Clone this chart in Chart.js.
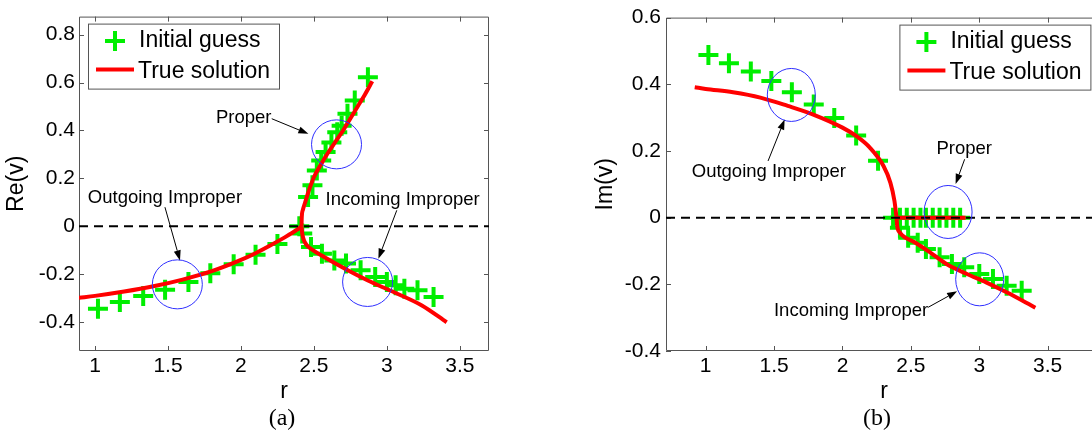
<!DOCTYPE html>
<html>
<head>
<meta charset="utf-8">
<script src="https://cdn.jsdelivr.net/npm/chart.js@4.4.0/dist/chart.umd.min.js"></script>
<style>
  html, body { margin: 0; padding: 0; background: #fff; overflow: hidden; }
  body { width: 1092px; height: 436px; position: relative; }
  .panel { position: absolute; top: 0; height: 436px; }
  #wrapA { left: 0; width: 546px; }
  #wrapB { left: 546px; width: 620px; }
  .cap { position: absolute; top: 405px; line-height: 24px; font-family: "Liberation Serif", "Times New Roman", serif; font-size: 24px; transform: translateX(-50%); }
</style>
</head>
<body>
<div class="panel" id="wrapA"><canvas id="chartA"></canvas></div>
<div class="panel" id="wrapB"><canvas id="chartB"></canvas></div>
<div class="cap" style="left:282px">(a)</div>
<div class="cap" style="left:877px">(b)</div>
<script>
// tick values
const xTicks = [1, 1.5, 2, 2.5, 3, 3.5];
const reTicks = [-0.4, -0.2, 0, 0.2, 0.4, 0.6, 0.8];
const imTicks = [-0.4, -0.2, 0, 0.2, 0.4, 0.6];

// (a) Re(v) -- initial guess, three branches
const aOutR = [1.02, 1.17, 1.33, 1.48, 1.64, 1.79, 1.95, 2.10, 2.25, 2.40];
const aOutGuess = [-0.344, -0.316, -0.291, -0.264, -0.232, -0.196, -0.158, -0.118, -0.074, 0.0];
const aPropR = [2.46, 2.49, 2.52, 2.55, 2.58, 2.62, 2.66, 2.69, 2.73, 2.78, 2.87];
const aPropGuess = [0.122, 0.171, 0.233, 0.275, 0.31, 0.35, 0.393, 0.42, 0.47, 0.525, 0.622];
const aIncR = [2.42, 2.48, 2.555, 2.64, 2.72, 2.82, 2.92, 3.0, 3.06, 3.12, 3.21, 3.32];
const aIncGuess = [-0.03, -0.086, -0.114, -0.142, -0.155, -0.183, -0.211, -0.232, -0.246, -0.26, -0.267, -0.295];

// (a) Re(v) -- true solution
const aOutCurveR = [0.89, 1.0, 1.2, 1.4, 1.6, 1.8, 2.0, 2.1, 2.2, 2.3, 2.35, 2.39, 2.415];
const aOutCurve = [-0.298, -0.290, -0.272, -0.250, -0.222, -0.187, -0.140, -0.112, -0.080, -0.046, -0.028, -0.012, 0];
const aPropCurveR = [2.415, 2.417, 2.425, 2.44, 2.46, 2.50, 2.55, 2.60, 2.65, 2.70, 2.75, 2.80, 2.85, 2.90];
const aPropCurve = [0, 0.04, 0.07, 0.10, 0.14, 0.205, 0.26, 0.31, 0.355, 0.40, 0.45, 0.50, 0.55, 0.605];
const aIncCurveR = [2.415, 2.42, 2.43, 2.45, 2.49, 2.57, 2.71, 2.87, 3.05, 3.24, 3.41];
const aIncCurve = [0, -0.03, -0.055, -0.078, -0.098, -0.128, -0.176, -0.226, -0.275, -0.33, -0.40];

// (b) Im(v) -- initial guess
const bOutR = [1.02, 1.17, 1.33, 1.48, 1.63, 1.79, 1.94, 2.10, 2.26];
const bOutGuess = [0.488, 0.463, 0.438, 0.41, 0.376, 0.339, 0.299, 0.246, 0.171];
const bPropR = [2.37, 2.42, 2.47, 2.52, 2.57, 2.61, 2.66, 2.71, 2.76, 2.81, 2.86];
const bPropGuess = [0, 0, 0, 0, 0, 0, 0, 0, 0, 0, 0];
const bIncR = [2.42, 2.48, 2.55, 2.61, 2.71, 2.80, 2.89, 3.0, 3.10, 3.20, 3.31];
const bIncGuess = [-0.03, -0.06, -0.075, -0.094, -0.119, -0.139, -0.149, -0.169, -0.184, -0.204, -0.219];

// (b) Im(v) -- true solution
const bOutCurveR = [0.92, 1.0, 1.2, 1.4, 1.6, 1.8, 2.0, 2.1, 2.2, 2.3, 2.35, 2.38, 2.395];
const bOutCurve = [0.391, 0.386, 0.376, 0.360, 0.335, 0.307, 0.27, 0.245, 0.21, 0.155, 0.105, 0.05, 0];
const bPropCurveR = [2.395, 2.90];
const bPropCurve = [0, 0];
const bIncCurveR = [2.395, 2.40, 2.42, 2.46, 2.52, 2.64, 2.76, 2.91, 3.05, 3.20, 3.41];
const bIncCurve = [0, -0.025, -0.045, -0.06, -0.072, -0.104, -0.139, -0.169, -0.194, -0.224, -0.27];

// labelled rings: ring centre, arrow tail/head and text centre in data units
const notesA = [
  { text: 'Outgoing Improper', at: [1.479, 0.118], from: [1.479, 0.080], to: [1.582, -0.142], ring: [1.564, -0.242] },
  { text: 'Proper', at: [2.019, 0.453], from: [2.211, 0.449], to: [2.462, 0.386], ring: [2.655, 0.342] },
  { text: 'Incoming Improper', at: [3.108, 0.111], from: [3.068, 0.067], to: [2.942, -0.135], ring: [2.868, -0.232] }
];
const notesB = [
  { text: 'Outgoing Improper', at: [1.462, 0.137], from: [1.456, 0.17], to: [1.577, 0.294], ring: [1.626, 0.368] },
  { text: 'Proper', at: [2.89, 0.207], from: [2.893, 0.175], to: [2.827, 0.101], ring: [2.772, 0.017] },
  { text: 'Incoming Improper', at: [2.063, -0.279], from: [2.626, -0.269], to: [2.838, -0.221], ring: [3.003, -0.185] }
];

const GREEN = '#00ee00';
const RED = '#ff0000';
const FRAME = '#555555';
const SANS = '"Liberation Sans", Arial, sans-serif';

Chart.defaults.font.family = SANS;
Chart.defaults.color = '#000';

function pts(rs, vs) {
  return rs.map((r, i) => ({ x: r, y: vs[i] }));
}

function guessSet(rs, vs) {
  return {
    label: 'Initial guess', data: pts(rs, vs), showLine: false, order: 1,
    pointStyle: 'cross', pointRadius: 10, pointBorderWidth: 4,
    pointBorderColor: GREEN, pointBackgroundColor: GREEN
  };
}

function curveSet(rs, vs) {
  return {
    label: 'True solution', data: pts(rs, vs), showLine: true, order: 0,
    borderColor: RED, borderWidth: 4, pointRadius: 0,
    cubicInterpolationMode: 'monotone',
    borderJoinStyle: 'round', borderCapStyle: 'butt'
  };
}

function arrow(ctx, x0, y0, x1, y1) {
  const ang = Math.atan2(y1 - y0, x1 - x0);
  const len = 10, half = 3.5;
  const bx = x1 - len * Math.cos(ang), by = y1 - len * Math.sin(ang);
  ctx.beginPath();
  ctx.moveTo(x0, y0);
  ctx.lineTo(bx, by);
  ctx.stroke();
  ctx.beginPath();
  ctx.moveTo(x1, y1);
  ctx.lineTo(bx - half * Math.sin(ang), by + half * Math.cos(ang));
  ctx.lineTo(bx + half * Math.sin(ang), by - half * Math.cos(ang));
  ctx.closePath();
  ctx.fill();
}

function drawKey(chart, key) {
  const { ctx, chartArea: a } = chart;
  const w = 191, h = 65;
  const left = key.side === 'left' ? a.left + 9 : a.right - key.inset - w;
  const top = a.top + 7;
  const guess = chart.data.datasets.find(d => !d.showLine);
  const curve = chart.data.datasets.find(d => d.showLine);

  ctx.fillStyle = '#fff';
  ctx.fillRect(left, top, w, h);
  ctx.strokeStyle = FRAME;
  ctx.lineWidth = 1;
  ctx.strokeRect(left + 0.5, top + 0.5, w, h);

  // marker entry
  const cx = left + 27, cy = top + 17.5;
  ctx.strokeStyle = guess.pointBorderColor;
  ctx.lineWidth = guess.pointBorderWidth;
  ctx.beginPath();
  ctx.moveTo(cx - 10, cy); ctx.lineTo(cx + 10, cy);
  ctx.moveTo(cx, cy - 10); ctx.lineTo(cx, cy + 10);
  ctx.stroke();

  // line entry
  ctx.strokeStyle = curve.borderColor;
  ctx.lineWidth = curve.borderWidth;
  ctx.beginPath();
  ctx.moveTo(left + 8, top + 46);
  ctx.lineTo(left + 46, top + 46);
  ctx.stroke();

  ctx.fillStyle = '#000';
  ctx.font = '23px ' + SANS;
  ctx.textAlign = 'left';
  ctx.textBaseline = 'middle';
  ctx.fillText(guess.label, left + 51, top + 17);
  ctx.fillText(curve.label, left + 50, top + 48.5);
}

const matlabBox = {
  id: 'matlabBox',
  beforeDatasetsDraw(chart) {
    const { ctx, chartArea: a, scales: { x, y } } = chart;
    ctx.save();
    ctx.strokeStyle = FRAME;
    ctx.lineWidth = 1;
    ctx.beginPath();
    ctx.rect(a.left + 0.5, a.top + 0.5, a.right - a.left - 1, a.bottom - a.top - 1);
    for (const t of x.ticks) {
      const px = Math.round(x.getPixelForValue(t.value)) + 0.5;
      ctx.moveTo(px, a.bottom); ctx.lineTo(px, a.bottom - 5);
      ctx.moveTo(px, a.top); ctx.lineTo(px, a.top + 5);
    }
    for (const t of y.ticks) {
      const py = Math.round(y.getPixelForValue(t.value)) + 0.5;
      ctx.moveTo(a.left, py); ctx.lineTo(a.left + 5, py);
      ctx.moveTo(a.right, py); ctx.lineTo(a.right - 5, py);
    }
    ctx.stroke();
    ctx.restore();
  },
  afterDatasetsDraw(chart, args, opts) {
    const { ctx, chartArea: a, scales: { x, y } } = chart;
    ctx.save();

    // dashed zero line
    const y0 = y.getPixelForValue(0);
    ctx.strokeStyle = '#000';
    ctx.lineWidth = 2;
    ctx.setLineDash([9, 6]);
    ctx.beginPath();
    ctx.moveTo(a.left, y0);
    ctx.lineTo(a.right, y0);
    ctx.stroke();
    ctx.setLineDash([]);

    for (const n of opts.notes) {
      ctx.strokeStyle = '#2f2fff';
      ctx.lineWidth = 1;
      ctx.beginPath();
      ctx.ellipse(x.getPixelForValue(n.ring[0]), y.getPixelForValue(n.ring[1]), opts.rx, opts.ry, 0, 0, Math.PI * 2);
      ctx.stroke();

      ctx.strokeStyle = '#000';
      ctx.fillStyle = '#000';
      arrow(ctx, x.getPixelForValue(n.from[0]), y.getPixelForValue(n.from[1]),
        x.getPixelForValue(n.to[0]), y.getPixelForValue(n.to[1]));

      ctx.font = '18.5px ' + SANS;
      ctx.textAlign = 'center';
      ctx.textBaseline = 'middle';
      ctx.fillText(n.text, x.getPixelForValue(n.at[0]), y.getPixelForValue(n.at[1]));
    }

    drawKey(chart, opts.key);
    ctx.restore();
  }
};

function panel(id, o) {
  return new Chart(document.getElementById(id), {
    type: 'scatter',
    data: {
      datasets: [
        guessSet(o.guess[0][0], o.guess[0][1]),
        guessSet(o.guess[1][0], o.guess[1][1]),
        guessSet(o.guess[2][0], o.guess[2][1]),
        curveSet(o.curve[0][0], o.curve[0][1]),
        curveSet(o.curve[1][0], o.curve[1][1]),
        curveSet(o.curve[2][0], o.curve[2][1])
      ]
    },
    options: {
      responsive: true,
      maintainAspectRatio: false,
      animation: false,
      events: [],
      layout: { padding: { top: 16, right: o.padRight, left: 0, bottom: 0 } },
      plugins: {
        legend: { display: false },
        tooltip: { enabled: false },
        matlabBox: { notes: o.notes, key: o.key, rx: o.rx, ry: o.ry }
      },
      scales: {
        x: {
          type: 'linear', min: o.xMin, max: o.xMax,
          grid: { display: false, drawTicks: false },
          border: { display: false },
          afterBuildTicks: s => { s.ticks = xTicks.map(v => ({ value: v })); },
          afterFit: s => { s.height = 85; },
          ticks: { font: { size: 21 }, padding: 3, maxRotation: 0, autoSkip: false, callback: v => String(v) },
          title: { display: true, text: 'r', font: { size: 23 }, padding: { top: 0, bottom: 31 } }
        },
        y: {
          type: 'linear', min: o.yMin, max: o.yMax,
          grid: { display: false, drawTicks: false },
          border: { display: false },
          afterBuildTicks: s => { s.ticks = o.yTicks.map(v => ({ value: v })); },
          afterFit: s => { s.width = o.yWidth; },
          ticks: { font: { size: 21 }, padding: o.yPad, autoSkip: false, callback: v => String(v) },
          title: { display: true, text: o.yTitle, font: { size: 23 }, padding: { top: o.yTitlePad, bottom: 0 } }
        }
      }
    },
    plugins: [matlabBox]
  });
}

panel('chartA', {
  guess: [[aOutR, aOutGuess], [aPropR, aPropGuess], [aIncR, aIncGuess]],
  curve: [[aOutCurveR, aOutCurve], [aPropCurveR, aPropCurve], [aIncCurveR, aIncCurve]],
  notes: notesA, rx: 25, ry: 24.5,
  key: { side: 'left' },
  xMin: 0.89, xMax: 3.70, yMin: -0.52, yMax: 0.875, yTicks: reTicks,
  yWidth: 79, yPad: 4, yTitle: 'Re(v)', yTitlePad: 3, padRight: 57
});

// right-hand axes run past the page edge, so its right frame is cut off
panel('chartB', {
  guess: [[bOutR, bOutGuess], [bPropR, bPropGuess], [bIncR, bIncGuess]],
  curve: [[bOutCurveR, bOutCurve], [bPropCurveR, bPropCurve], [bIncCurveR, bIncCurve]],
  notes: notesB, rx: 24, ry: 26.5,
  key: { side: 'right', inset: 12 },
  xMin: 0.71, xMax: 3.9, yMin: -0.4, yMax: 0.6, yTicks: imTicks,
  yWidth: 120, yPad: 5, yTitle: 'Im(v)', yTitlePad: 46, padRight: 63.6
});
</script>
</body>
</html>
